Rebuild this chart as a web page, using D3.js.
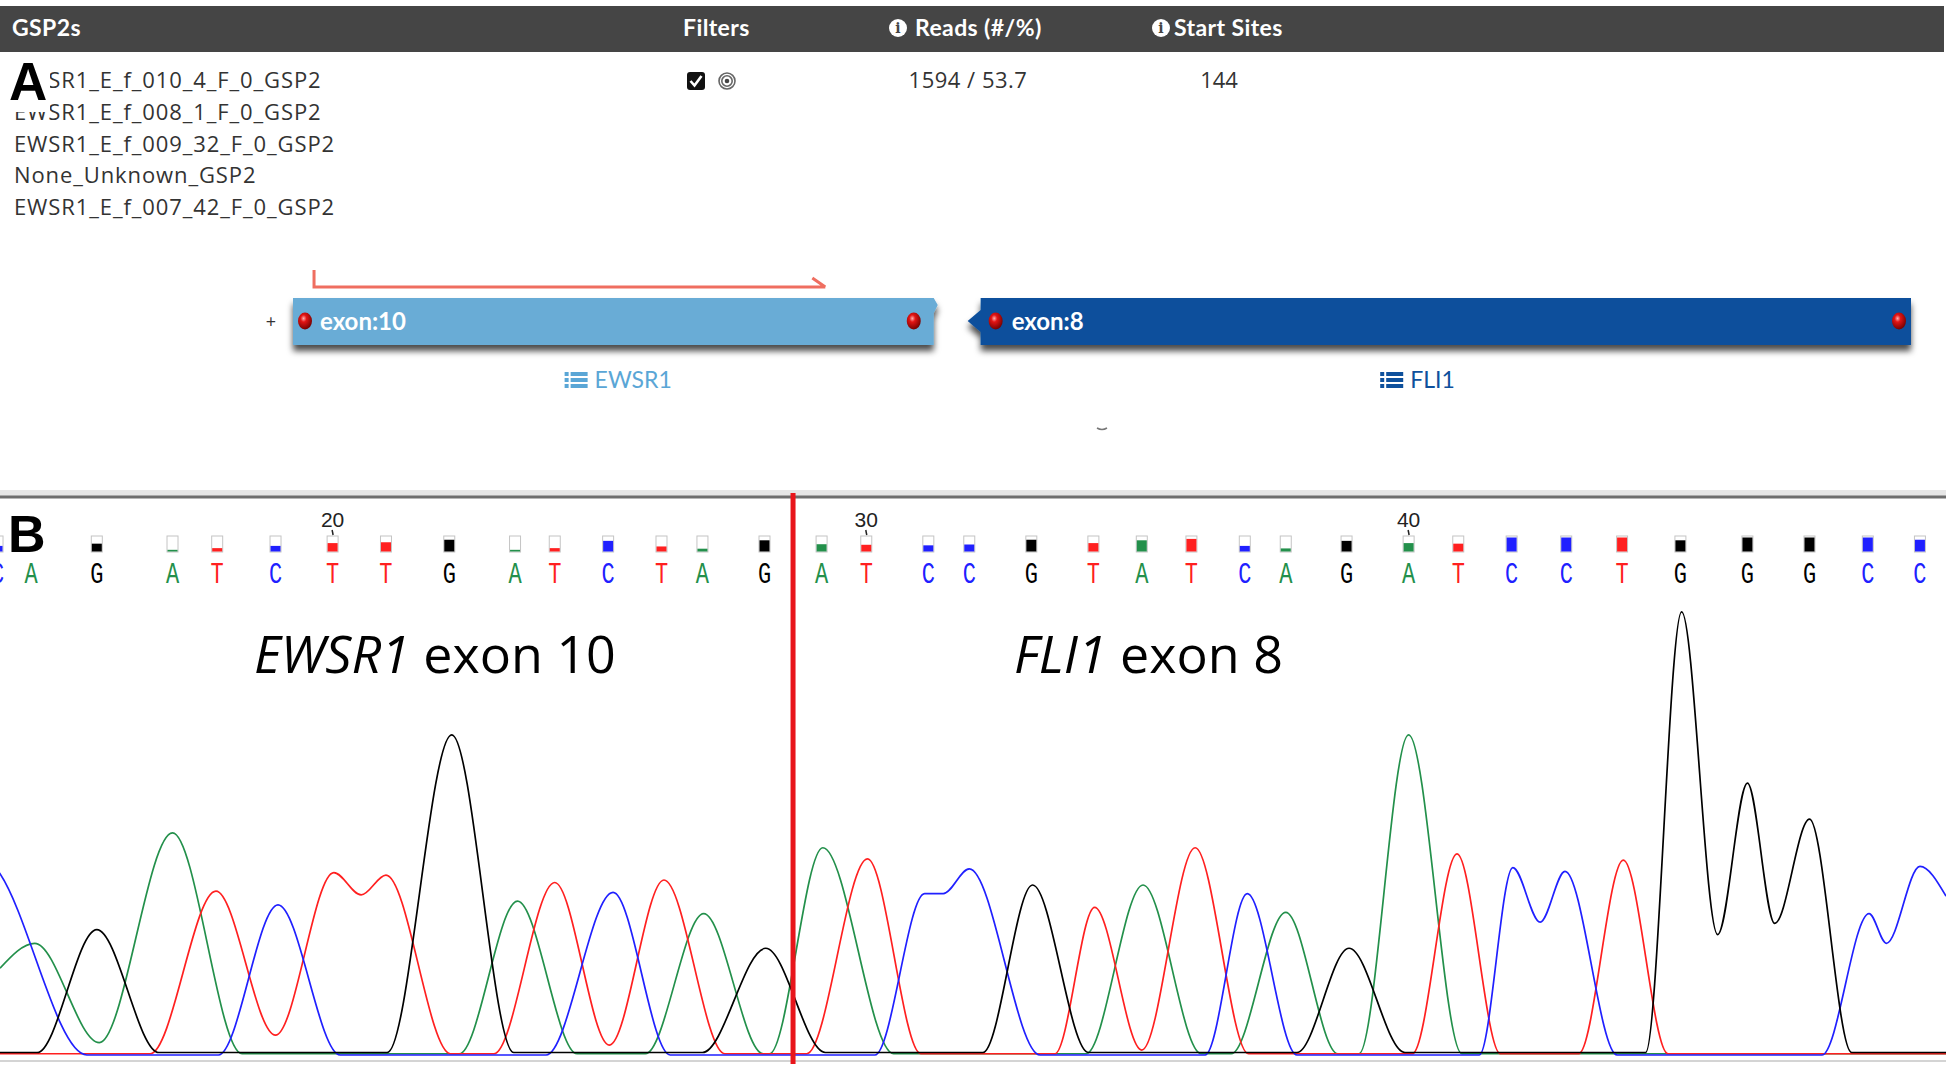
<!DOCTYPE html>
<html>
<head>
<meta charset="utf-8">
<script src="https://cdn.jsdelivr.net/npm/d3@7"></script>
<style>
  body { margin: 0; background: #fff; }
  svg { display: block; }
</style>
</head>
<body>
<svg id="fig" width="1946" height="1069"></svg>
<script>
// ---------- panel A data ----------
const headerLabels = ['GSP2s', 'Filters', 'Reads (#/%)', 'Start Sites'];
const gsp2Rows = [
  'EWSR1_E_f_010_4_F_0_GSP2',
  'EWSR1_E_f_008_1_F_0_GSP2',
  'EWSR1_E_f_009_32_F_0_GSP2',
  'None_Unknown_GSP2',
  'EWSR1_E_f_007_42_F_0_GSP2'
];
const readCount = 1594;
const readPct = 53.7;
const startSites = 144;

// exon track, in track units (0-100)
const exonGenes = ['EWSR1', 'FLI1'];
const exonNumbers = [10, 8];
const exonStarts = [0, 42.5];
const exonEnds = [39.6, 100];
const geneLabelAt = [20.1, 69.5];
const primerSpan = [1.3, 32.9];

// ---------- panel B data ----------
const firstBase = 14;
const baseCalls = 'CAGATCTTGATCTAGATCCGTATCAGATCCTGGGCC'.split('');
const callScans = [-2, 25, 78, 139, 175, 222, 268, 311, 362, 415, 447, 490, 533, 566, 616,
  662, 698, 748, 781, 831, 881, 920, 960, 1003, 1036, 1085, 1135, 1175, 1218, 1262, 1307,
  1354, 1408, 1458, 1505, 1547];
const qualityValues = [20, null, 28, 6, 12, 20, 30, 33, 42, 6, 12, 38, 18, 10, 40,
  26, 24, 22, 25, 42, 30, 40, 45, 20, 11, 38, 30, 28, 50, 50, 50,
  40, 50, 50, 50, 42];
const junctionScan = 639;

// traces: [scan, signal]
const traceA = [[0,70],[28,90],[80,10],[139,179],[195,1],[370,1],[417,124],[465,1],[520,1],
  [567,114],[615,1],[620,1],[663,167],[720,1],[875,1],[921,137],[968,1],[992,1],[1036,115],
  [1078,1],[1095,1],[1135,258],[1178,1],[1568,1]];
const traceC = [[-10,160],[0,146],[70,0],[176,0],[224,121],[274,0],[440,0],[494,131],[540,0],[705,0],
  [745,130],[760,130],[781,150],[838,0],[971,0],[1005,130],[1045,0],[1192,0],[1219,151],
  [1241,107],[1261,148],[1303,0],[1468,0],[1506,114],[1520,90],[1547,152],[1568,128]];
const traceG = [[0,2],[30,2],[78,101],[128,2],[312,2],[364,258],[414,2],[566,2],[617,86],
  [665,2],[792,2],[832,137],[877,2],[1045,2],[1087,86],[1132,2],[1326,2],[1355,357],
  [1384,97],[1408,219],[1430,106],[1458,190],[1492,2],[1568,2]];
const traceT = [[0,1],[121,1],[174,132],[222,16],[269,147],[291,129],[311,145],[363,1],
  [398,1],[447,139],[491,8],[535,141],[584,1],[650,1],[699,158],[742,1],[850,1],[882,119],
  [920,4],[963,167],[1006,1],[1138,1],[1174,162],[1209,1],[1272,1],[1308,157],[1344,1],[1568,1]];

const W = 1946, H = 1069;
const svg = d3.select('#fig');

const uiFont = "'Open Sans', sans-serif";
const headFont = "Lato, sans-serif";

// ---------- defs ----------
const defs = svg.append('defs');
const shadow = defs.append('filter').attr('id', 'barShadow')
  .attr('x', '-5%').attr('y', '-30%').attr('width', '110%').attr('height', '190%');
shadow.append('feDropShadow').attr('dx', 0).attr('dy', 6).attr('stdDeviation', 3)
  .attr('flood-color', '#000').attr('flood-opacity', 0.7);
const ball = defs.append('radialGradient').attr('id', 'ball')
  .attr('cx', '40%').attr('cy', '35%').attr('r', '70%');
ball.append('stop').attr('offset', '0%').attr('stop-color', '#ffb0b0');
ball.append('stop').attr('offset', '30%').attr('stop-color', '#e31414');
ball.append('stop').attr('offset', '100%').attr('stop-color', '#6a0000');
defs.append('clipPath').attr('id', 'chromClip')
  .append('rect').attr('x', 0).attr('y', 500).attr('width', W).attr('height', H - 500);

// ---------- panel A ----------
const gA = svg.append('g');

gA.append('rect').attr('x', 0).attr('y', 6).attr('width', W - 2).attr('height', 46)
  .attr('fill', '#454545');

const headerX = [12, 683, 915, 1174];
gA.selectAll('text.head').data(headerLabels).join('text')
  .attr('class', 'head')
  .attr('x', (d, i) => headerX[i])
  .attr('y', 36)
  .attr('fill', '#fff')
  .style('font-family', headFont)
  .style('font-weight', 700)
  .style('font-size', '23px')
  .style('letter-spacing', '0.4px')
  .text(d => d);

// info icons
const infoX = [898, 1161];
const info = gA.selectAll('g.info').data(infoX).join('g')
  .attr('class', 'info')
  .attr('transform', d => `translate(${d},28)`);
info.append('circle').attr('r', 9).attr('fill', '#fff');
info.append('text').attr('y', 5).attr('text-anchor', 'middle')
  .attr('fill', '#454545').style('font-family', 'DejaVu Serif, serif')
  .style('font-weight', 700).style('font-size', '14px').text('i');

const rowY = d3.scaleLinear().domain([0, gsp2Rows.length - 1]).range([88, 215]);
gA.selectAll('text.row').data(gsp2Rows).join('text')
  .attr('class', 'row')
  .attr('x', 14)
  .attr('y', (d, i) => rowY(i))
  .attr('fill', '#333')
  .style('font-family', uiFont)
  .style('font-size', '22px')
  .style('letter-spacing', '0.9px')
  .text(d => d);

// panel letter A sits on a white patch
gA.append('rect').attr('x', 0).attr('y', 56).attr('width', 50).attr('height', 56).attr('fill', '#fff');
gA.append('text').attr('x', 9).attr('y', 100)
  .style('font-family', 'Liberation Sans, Arial, sans-serif')
  .style('font-weight', 700).style('font-size', '53px').text('A');

// filters
gA.append('rect').attr('x', 687).attr('y', 72).attr('width', 18).attr('height', 18)
  .attr('rx', 3).attr('fill', '#111');
gA.append('path').attr('d', 'M690.5,81 L694.5,85.5 L701.5,76')
  .attr('fill', 'none').attr('stroke', '#fff').attr('stroke-width', 2.6);
[8, 5.2].forEach(r => gA.append('circle').attr('cx', 727).attr('cy', 81).attr('r', r)
  .attr('fill', '#fff').attr('stroke', '#666').attr('stroke-width', 1.6));
gA.append('circle').attr('cx', 727).attr('cy', 81).attr('r', 2.3).attr('fill', '#444');

gA.append('text').attr('x', 968).attr('y', 88).attr('text-anchor', 'middle')
  .attr('fill', '#333').style('font-family', uiFont).style('font-size', '22px')
  .style('letter-spacing', '0.5px')
  .text(`${readCount} / ${readPct}`);
gA.append('text').attr('x', 1219).attr('y', 88).attr('text-anchor', 'middle')
  .attr('fill', '#333').style('font-family', uiFont).style('font-size', '22px')
  .text(startSites);

// exon track
const trackX = d3.scaleLinear().domain([0, 100]).range([293, 1911]);
const geneColor = d3.scaleOrdinal().domain(exonGenes).range(['#69acd6', '#0e509c']);
const geneText = d3.scaleOrdinal().domain(exonGenes).range(['#5aa6d6', '#0e509c']);
const barTop = 298, barBot = 345, barMid = 321;

const exonData = exonGenes.map((g, i) => ({ gene: g, exon: exonNumbers[i], x0: trackX(exonStarts[i]), x1: trackX(exonEnds[i]), i }));

const exonG = gA.selectAll('g.exon').data(exonData).join('g').attr('class', 'exon');
exonG.append('path')
  .attr('d', d => d.i === 0
    ? `M${d.x0},${barTop} L${d.x1},${barTop} L${d.x1 + 4},${barTop + 7} L${d.x1},${barTop + 15} L${d.x1},${barBot} L${d.x0},${barBot} Z`
    : `M${d.x0},${barTop} L${d.x1},${barTop} L${d.x1},${barBot} L${d.x0},${barBot} L${d.x0},${barMid + 11} L${d.x0 - 13},${barMid} L${d.x0},${barMid - 11} Z`)
  .attr('fill', d => geneColor(d.gene))
  .attr('filter', 'url(#barShadow)');
exonG.selectAll('ellipse').data(d => [d.x0 + (d.i === 0 ? 12 : 15), d.x1 - (d.i === 0 ? 20 : 12)])
  .join('ellipse')
  .attr('cx', d => d).attr('cy', barMid).attr('rx', 7).attr('ry', 8.5)
  .attr('fill', 'url(#ball)');
exonG.append('text')
  .attr('x', d => d.x0 + (d.i === 0 ? 27 : 31))
  .attr('y', barMid + 9)
  .attr('fill', '#fff')
  .style('font-family', headFont).style('font-weight', 700).style('font-size', '24px')
  .text(d => `exon:${d.exon}`);

gA.append('text').attr('x', 271).attr('y', 328).attr('text-anchor', 'middle')
  .attr('fill', '#333').style('font-family', uiFont).style('font-size', '18px').text('+');

// primer arrow
const pa = trackX(primerSpan[0]), pb = trackX(primerSpan[1]);
gA.append('path')
  .attr('d', `M${pa},270 V287 H${pb} M${pb - 13},278 L${pb},287`)
  .attr('fill', 'none').attr('stroke', '#ef6e60').attr('stroke-width', 3);

// gene labels with list icon
const geneLab = gA.selectAll('g.gene').data(exonGenes).join('g')
  .attr('class', 'gene')
  .attr('transform', (d, i) => `translate(${trackX(geneLabelAt[i])},380)`);
geneLab.each(function (d) {
  const g = d3.select(this);
  const t = g.append('text').attr('y', 8).attr('fill', geneText(d))
    .style('font-family', headFont).style('font-size', '23px').text(d);
  const tw = t.node().getComputedTextLength();
  const total = tw + 30;
  t.attr('x', -total / 2 + 30);
  [0, 1, 2].forEach(k => {
    g.append('rect').attr('x', -total / 2).attr('y', -8 + k * 6).attr('width', 4).attr('height', 4).attr('fill', geneText(d));
    g.append('rect').attr('x', -total / 2 + 6).attr('y', -8 + k * 6).attr('width', 17).attr('height', 4).attr('fill', geneText(d));
  });
});
gA.append('path').attr('d', 'M1097,428 Q1102,431 1107,428')
  .attr('fill', 'none').attr('stroke', '#777').attr('stroke-width', 1.5);

// ---------- panel B ----------
const gB = svg.append('g');
const xScan = d3.scaleLinear().domain([0, 1568]).range([0, W]);
const ySignal = d3.scaleLinear().domain([0, 360]).range([1055, 1055 - 360 * 1.241]);
const qScale = d3.scaleLinear().domain([0, 50]).range([0, 14]);
const baseColor = d3.scaleOrdinal().domain(['A', 'C', 'G', 'T']).range(['#23904b', '#2020ff', '#000000', '#ff2020']);

// separator
gB.append('rect').attr('x', 0).attr('y', 490).attr('width', W).attr('height', 6).attr('fill', '#e6e6e6');
gB.append('line').attr('x1', 0).attr('x2', W).attr('y1', 497).attr('y2', 497)
  .attr('stroke', '#6e6e6e').attr('stroke-width', 3);
gB.append('line').attr('x1', 0).attr('x2', W).attr('y1', 1061).attr('y2', 1061)
  .attr('stroke', '#d4d4d4').attr('stroke-width', 2);

const calls = baseCalls.map((b, i) => ({ base: b, pos: firstBase + i, scan: callScans[i], q: qualityValues[i] }));

const callG = gB.append('g').attr('clip-path', 'url(#chromClip)');
// quality boxes
const qBox = callG.selectAll('g.q').data(calls.filter(d => d.q !== null)).join('g')
  .attr('class', 'q')
  .attr('transform', d => `translate(${xScan(d.scan)},536)`);
qBox.append('rect').attr('x', -5.5).attr('y', 0).attr('width', 11).attr('height', 16)
  .attr('fill', '#fff').attr('stroke', '#c4c4c4').attr('stroke-width', 1);
qBox.append('rect').attr('x', -5).attr('y', d => 15.5 - qScale(d.q)).attr('width', 10)
  .attr('height', d => qScale(d.q)).attr('fill', d => baseColor(d.base));

// base letters
callG.selectAll('text.base').data(calls).join('text')
  .attr('class', 'base')
  .attr('transform', d => `translate(${xScan(d.scan)},583) scale(1,1.35)`)
  .attr('text-anchor', 'middle')
  .attr('fill', d => baseColor(d.base))
  .style('font-family', "'Liberation Mono', 'Courier New', monospace")
  .style('font-size', '22px')
  .text(d => d.base);

// position numbers
const tens = calls.filter(d => d.pos % 10 === 0);
gB.selectAll('text.pos').data(tens).join('text')
  .attr('class', 'pos')
  .attr('x', d => xScan(d.scan)).attr('y', 527)
  .attr('text-anchor', 'middle').attr('fill', '#222')
  .style('font-family', 'Liberation Sans, Arial, sans-serif').style('font-size', '21px')
  .text(d => d.pos);
gB.selectAll('line.pos').data(tens).join('line')
  .attr('class', 'pos')
  .attr('x1', d => xScan(d.scan) - 0.5).attr('x2', d => xScan(d.scan) + 0.5)
  .attr('y1', 530).attr('y2', 535).attr('stroke', '#222').attr('stroke-width', 1.5);

gB.append('text').attr('x', 8).attr('y', 552)
  .style('font-family', 'Liberation Sans, Arial, sans-serif')
  .style('font-weight', 700).style('font-size', '52px').text('B');

// traces
const traceLine = d3.line()
  .x(d => xScan(d[0]))
  .y(d => ySignal(d[1]))
  .curve(d3.curveMonotoneX);
const traces = [['A', traceA], ['T', traceT], ['C', traceC], ['G', traceG]];
gB.append('g').attr('clip-path', 'url(#chromClip)')
  .selectAll('path').data(traces).join('path')
  .attr('d', d => traceLine(d[1]))
  .attr('fill', 'none')
  .attr('stroke', d => baseColor(d[0]))
  .attr('stroke-width', 1.7);

// fusion junction
gB.append('line')
  .attr('x1', xScan(junctionScan)).attr('x2', xScan(junctionScan))
  .attr('y1', 493).attr('y2', 1064)
  .attr('stroke', '#e8151b').attr('stroke-width', 5);

// exon titles
const titles = [['EWSR1', ' exon 10', 254], ['FLI1', ' exon 8', 1014]];
titles.forEach(([gene, rest, x]) => {
  const t = gB.append('text').attr('x', x).attr('y', 673)
    .style('font-family', uiFont).style('font-size', '52px').attr('fill', '#000');
  t.append('tspan').style('font-style', 'italic').text(gene);
  t.append('tspan').text(rest);
});
</script>
</body>
</html>
